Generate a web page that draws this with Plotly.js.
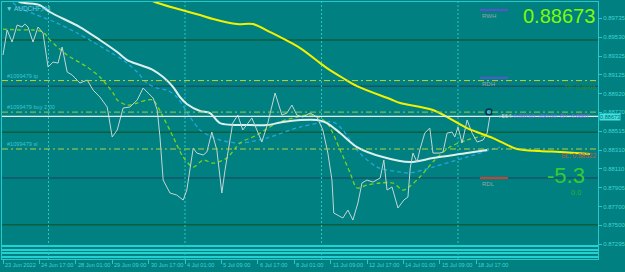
<!DOCTYPE html>
<html><head><meta charset="utf-8">
<script src="https://cdn.plot.ly/plotly-3.0.1.min.js"></script>
<style>html,body{margin:0;padding:0;background:#008080;}#chart{width:625px;height:272px;}</style>
</head><body><div id="chart"></div>
<script>
// ---------- data ----------
const symbolTitle = "\u25BC AUDCHF,H4";
const xTickIdx = [0, 8, 16, 24, 32, 40, 48, 56, 64, 72, 80, 88, 96, 104];
const xTickLabels = ["23 Jun 2022", "24 Jun 17:00", "28 Jun 01:00", "29 Jun 09:00", "30 Jun 17:00", "4 Jul 01:00", "5 Jul 09:00", "6 Jul 17:00", "8 Jul 01:00", "11 Jul 09:00", "12 Jul 17:00", "14 Jul 01:00", "15 Jul 09:00", "18 Jul 17:00"];
const yTickVals = [0.89735, 0.89530, 0.89325, 0.89125, 0.88920, 0.88720, 0.88515, 0.88310, 0.88110, 0.87905, 0.87700, 0.87500, 0.87295];

const priceIdx = [0, 0.9, 2.0, 3.1, 4.2, 4.8, 5.5, 6.6, 7.7, 8.8, 9.9, 11.0, 12.1, 13.0, 14.1, 15.2, 16.9, 18.5, 19.8, 21.3, 22.9, 24.0, 25.1, 26.4, 27.9, 29.5, 30.8, 33.0, 33.9, 34.5, 35.2, 36.7, 38.2, 39.6, 40.4, 41.1, 41.8, 42.6, 44.0, 44.8, 45.9, 47.0, 47.7, 48.1, 48.8, 49.9, 50.5, 51.6, 52.7, 54.7, 56.9, 58.2, 59.8, 61.3, 62.4, 63.5, 64.6, 65.9, 67.5, 69.0, 70.3, 71.4, 72.3, 72.7, 74.7, 75.8, 76.9, 78.0, 78.9, 80.0, 81.3, 82.9, 83.7, 84.4, 85.5, 86.8, 88.1, 89.0, 89.5, 90.1, 91.0, 91.6, 92.7, 93.8, 94.5, 96.0, 96.7, 97.6, 98.7, 99.3, 100.0, 100.9, 102.0, 103.1, 104.2, 105.5, 106.4, 107.0];
const priceClose = [0.89336, 0.89606, 0.89476, 0.89660, 0.89638, 0.89670, 0.89638, 0.89476, 0.89638, 0.89573, 0.89206, 0.89260, 0.89249, 0.89422, 0.89152, 0.89120, 0.89034, 0.89066, 0.88958, 0.88883, 0.88775, 0.88451, 0.88527, 0.88764, 0.88775, 0.88850, 0.88980, 0.88872, 0.88742, 0.88451, 0.87987, 0.87847, 0.87825, 0.87771, 0.87879, 0.88095, 0.88332, 0.88278, 0.88257, 0.88289, 0.88505, 0.88311, 0.87987, 0.87847, 0.88095, 0.88419, 0.88602, 0.88688, 0.88527, 0.88656, 0.88397, 0.88602, 0.88926, 0.88688, 0.88710, 0.88796, 0.88688, 0.88667, 0.88710, 0.88667, 0.88527, 0.88278, 0.87987, 0.87631, 0.87577, 0.87663, 0.87555, 0.87739, 0.87955, 0.87987, 0.87965, 0.88009, 0.88203, 0.87879, 0.87912, 0.87685, 0.87771, 0.87804, 0.88117, 0.88278, 0.88181, 0.88311, 0.88494, 0.88548, 0.88278, 0.88278, 0.88289, 0.88494, 0.88505, 0.88451, 0.88559, 0.88386, 0.88634, 0.88494, 0.88397, 0.88419, 0.88494, 0.88673];

const maWhiteIdx = [1.5, 3.7, 8.1, 10.3, 16.9, 21.3, 25.1, 27.3, 30.1, 33.0, 35.2, 37.4, 38.9, 40.4, 43.3, 45.5, 47.7, 54.3, 58.0, 61.5, 65.3, 69.0, 71.2, 74.1, 77.8, 83.5, 89.5, 94.5, 102.0, 106.4];
const maWhite = [0.89980, 0.89908, 0.89875, 0.89800, 0.89638, 0.89498, 0.89368, 0.89282, 0.89228, 0.89174, 0.89098, 0.88990, 0.88883, 0.88807, 0.88732, 0.88710, 0.88602, 0.88580, 0.88580, 0.88613, 0.88634, 0.88634, 0.88602, 0.88494, 0.88343, 0.88235, 0.88181, 0.88224, 0.88278, 0.88311];

const maBlueIdx = [1.1, 3.3, 7.5, 11.9, 16.3, 19.8, 23.5, 26.4, 29.5, 31.6, 33.8, 36.0, 38.2, 41.1, 43.3, 45.5, 47.7, 52.1, 58.0, 65.3, 72.5, 74.7, 77.8, 82.2, 87.3, 89.5, 94.5, 102.0, 109.2];
const maBlue = [0.89960, 0.89854, 0.89767, 0.89681, 0.89573, 0.89476, 0.89368, 0.89282, 0.89152, 0.89034, 0.88980, 0.88958, 0.88883, 0.88667, 0.88527, 0.88462, 0.88419, 0.88386, 0.88440, 0.88559, 0.88613, 0.88527, 0.88311, 0.88127, 0.88073, 0.88063, 0.88127, 0.88235, 0.88343];

const maGreenIdx = [0, 3.7, 6.6, 8.8, 10.3, 14.1, 18.5, 21.3, 24.2, 25.1, 27.3, 29.5, 31.6, 33.0, 35.2, 37.4, 39.6, 41.8, 44.0, 46.2, 49.2, 52.1, 55.8, 60.2, 64.6, 68.1, 71.2, 74.1, 76.3, 77.8, 80.0, 82.9, 85.7, 87.9, 89.5, 91.6, 94.9, 98.2, 102.0, 106.4];
const maGreen = [0.89616, 0.89606, 0.89606, 0.89584, 0.89498, 0.89336, 0.89206, 0.89098, 0.88926, 0.88850, 0.88796, 0.88818, 0.88850, 0.88850, 0.88667, 0.88451, 0.88235, 0.88127, 0.88203, 0.88170, 0.88224, 0.88386, 0.88473, 0.88602, 0.88667, 0.88688, 0.88602, 0.88311, 0.88063, 0.87901, 0.87933, 0.87955, 0.87955, 0.87879, 0.87922, 0.88019, 0.88203, 0.88343, 0.88419, 0.88473];

const maYellowIdx = [30.1, 33.4, 43.3, 46.2, 51.4, 54.9, 58.7, 65.3, 69.7, 71.2, 74.7, 77.8, 85.1, 87.3, 94.5, 102.0, 107.7, 113.0, 118.0, 122.4, 129.0];
const maYellow = [0.89983, 0.89908, 0.89767, 0.89724, 0.89670, 0.89670, 0.89584, 0.89411, 0.89249, 0.89195, 0.89088, 0.89001, 0.88861, 0.88818, 0.88742, 0.88548, 0.88440, 0.88322, 0.88300, 0.88289, 0.88267];

const bid = 0.88673;
const levelsGreen = [0.89498, 0.88503, 0.87505];
const levelsTeal = [0.88999, 0.88008];
const bottomLevels = [0.87275, 0.87232, 0.87199, 0.87156];
const weekSeparators = [10, 40, 70, 100];
const orderId = "#1099479";
const orderTp = 0.89060, orderOpen = 0.88720, orderSl = 0.88322;
const orderOpenIdx = 106.8;
const rwh = 0.89821, rdh = 0.89091, rdl = 0.88009;
const pivotIdx = [104.8, 111.0];
const profitPips = "-5.3", profitMoney = "0.0";

// ---------- chart ----------
const FONT = "Liberation Sans, Arial, sans-serif";
const CY = "#26c9c9";
const shapes = [];
levelsGreen.forEach(v => shapes.push({type:"line", xref:"paper", x0:0, x1:1, y0:v, y1:v, layer:"below", line:{color:"#0b5e3e", width:1.5}}));
levelsTeal.forEach(v => shapes.push({type:"line", xref:"paper", x0:0, x1:1, y0:v, y1:v, layer:"below", line:{color:"#16566a", width:1.5}}));
bottomLevels.forEach(v => shapes.push({type:"line", xref:"paper", x0:0, x1:1, y0:v, y1:v, layer:"below", line:{color:"#22d2d2", width:2}}));
weekSeparators.forEach(v => shapes.push({type:"line", yref:"paper", y0:0, y1:1, x0:v, x1:v, layer:"below", line:{color:"#2ac4c4", width:1, dash:"2px,2px"}}));
shapes.push({type:"line", xref:"paper", x0:0, x1:1, y0:orderTp, y1:orderTp, line:{color:"#c9cf2e", width:1, dash:"6px,3px,2px,3px"}});
shapes.push({type:"line", xref:"paper", x0:0, x1:1, y0:orderOpen, y1:orderOpen, line:{color:"#9cc94a", width:1, dash:"6px,3px,2px,3px"}});
shapes.push({type:"line", xref:"paper", x0:0, x1:1, y0:orderSl, y1:orderSl, line:{color:"#b5d23c", width:1, dash:"6px,3px,2px,3px"}});
shapes.push({type:"line", xref:"paper", x0:0, x1:1, y0:bid, y1:bid, line:{color:"#e4ecec", width:1.3}});
shapes.push({type:"line", x0:pivotIdx[0], x1:pivotIdx[1], y0:rwh, y1:rwh, line:{color:"#5a52d0", width:2}});
shapes.push({type:"line", x0:pivotIdx[0], x1:pivotIdx[1], y0:rdh, y1:rdh, line:{color:"#4e5cc4", width:2}});
shapes.push({type:"line", x0:pivotIdx[0], x1:pivotIdx[1], y0:rdl, y1:rdl, line:{color:"#d83a2e", width:2}});

const traces = [
  {x:maBlueIdx, y:maBlue, mode:"lines", line:{color:"#22a6de", width:1.3, dash:"4px,3px", shape:"spline", smoothing:0.8}, hoverinfo:"skip"},
  {x:maGreenIdx, y:maGreen, mode:"lines", line:{color:"#7ad21e", width:1.3, dash:"4px,3px", shape:"spline", smoothing:0.8}, hoverinfo:"skip"},
  {x:maWhiteIdx, y:maWhite, mode:"lines", line:{color:"#dcefef", width:2, shape:"spline", smoothing:0.8}, hoverinfo:"skip"},
  {x:priceIdx, y:priceClose, mode:"lines", line:{color:"#c3d6d6", width:1}, hoverinfo:"skip"},
  {x:maYellowIdx, y:maYellow, mode:"lines", line:{color:"#f2f200", width:2, shape:"spline", smoothing:0.9}, hoverinfo:"skip"},
  {x:[orderOpenIdx], y:[orderOpen], mode:"markers", marker:{size:6, color:"#1aa8d8", line:{color:"#06303c", width:1.5}}, hoverinfo:"skip"}
];

const ann = [];
xTickIdx.forEach((v, i) => ann.push({x:v, y:0, yref:"paper", xanchor:"left", yanchor:"top", xshift:0, yshift:-1, showarrow:false, text:xTickLabels[i], font:{family:FONT, size:5.6, color:"#3fd4d4"}}));
ann.push({x:1, xref:"paper", xanchor:"left", xshift:1, y:bid, yanchor:"middle", yshift:-0.5, showarrow:false, text:"0.88673", bgcolor:"#40e2e2", borderpad:0, font:{family:FONT, size:5.6, color:"#0a6a6a"}});
ann.push({x:0, xref:"paper", xanchor:"left", xshift:2, y:1, yref:"paper", yanchor:"top", yshift:-1, showarrow:false, text:symbolTitle, font:{family:FONT, size:6.5, color:"#6ecfe6"}});
ann.push({x:0, xref:"paper", xanchor:"left", xshift:3, y:orderTp, yanchor:"bottom", showarrow:false, text:orderId+" tp", font:{family:FONT, size:5.6, color:"#36c6d6"}});
ann.push({x:0, xref:"paper", xanchor:"left", xshift:3, y:orderOpen, yanchor:"bottom", showarrow:false, text:orderId+" buy 2.00", font:{family:FONT, size:5.6, color:"#36c6d6"}});
ann.push({x:0, xref:"paper", xanchor:"left", xshift:3, y:orderSl, yanchor:"bottom", showarrow:false, text:orderId+" sl", font:{family:FONT, size:5.6, color:"#36c6d6"}});
ann.push({x:1, xref:"paper", xanchor:"right", xshift:-1, y:1, yref:"paper", yanchor:"middle", yshift:-14, showarrow:false, text:"0.88673", font:{family:FONT, size:20, color:"#7cfc00"}});
ann.push({x:1, xref:"paper", xanchor:"right", xshift:-11, y:0.325, yref:"paper", yanchor:"middle", showarrow:false, text:profitPips, font:{family:FONT, size:22, color:"#32cd32"}});
ann.push({x:0.963, xref:"paper", xanchor:"center", y:0.258, yref:"paper", yanchor:"middle", showarrow:false, text:profitMoney, font:{family:FONT, size:7.5, color:"#2bb52b"}});
[["RWH", rwh], ["RDH", rdh], ["RDL", rdl]].forEach(p => ann.push({x:pivotIdx[0], xanchor:"left", xshift:0, y:p[1], yanchor:"top", yshift:-1, showarrow:false, text:p[0], font:{family:FONT, size:6, color:"#9aa6a6"}}));
ann.push({x:1, xref:"paper", xanchor:"right", y:orderTp, yanchor:"top", yshift:-1, showarrow:false, text:"TP: 0.8906", font:{family:FONT, size:6.5, color:"#1e9040"}});
ann.push({x:1, xref:"paper", xanchor:"right", y:orderSl, yanchor:"top", yshift:-1, showarrow:false, text:"SL: 0.88322", font:{family:FONT, size:6.5, color:"#c05a48"}});
ann.push({x:108.4, xanchor:"left", y:bid, yanchor:"middle", showarrow:false, text:'<span style="color:#c8d0d0">+564</span> <span style="color:#6a6ad8">0.88720, 200.00</span>  <span style="color:#8a62d8">BY: 0.8867</span>', font:{family:FONT, size:6, color:"#c8d0d0"}});

const layout = {
  width:625, height:272,
  margin:{l:2, r:27, t:2, b:13, pad:0},
  paper_bgcolor:"#008080", plot_bgcolor:"#008080",
  showlegend:false,
  xaxis:{range:[-0.22, 130.77], showgrid:false, zeroline:false, showline:true, mirror:true, linecolor:CY, linewidth:1,
         tickmode:"array", tickvals:xTickIdx, showticklabels:false, ticks:"outside", ticklen:4, tickcolor:CY, fixedrange:true},
  yaxis:{range:[0.87135, 0.89908], side:"right", showgrid:false, zeroline:false, showline:true, mirror:true, linecolor:CY, linewidth:1,
         tickmode:"array", tickvals:yTickVals, ticktext:yTickVals.map(v => v.toFixed(5)), ticks:"outside", ticklen:3, tickcolor:CY,
         tickfont:{family:FONT, size:6, color:"#3fd4d4"}, fixedrange:true},
  shapes:shapes, annotations:ann
};
Plotly.newPlot("chart", traces, layout, {staticPlot:true, displayModeBar:false});
</script></body></html>
